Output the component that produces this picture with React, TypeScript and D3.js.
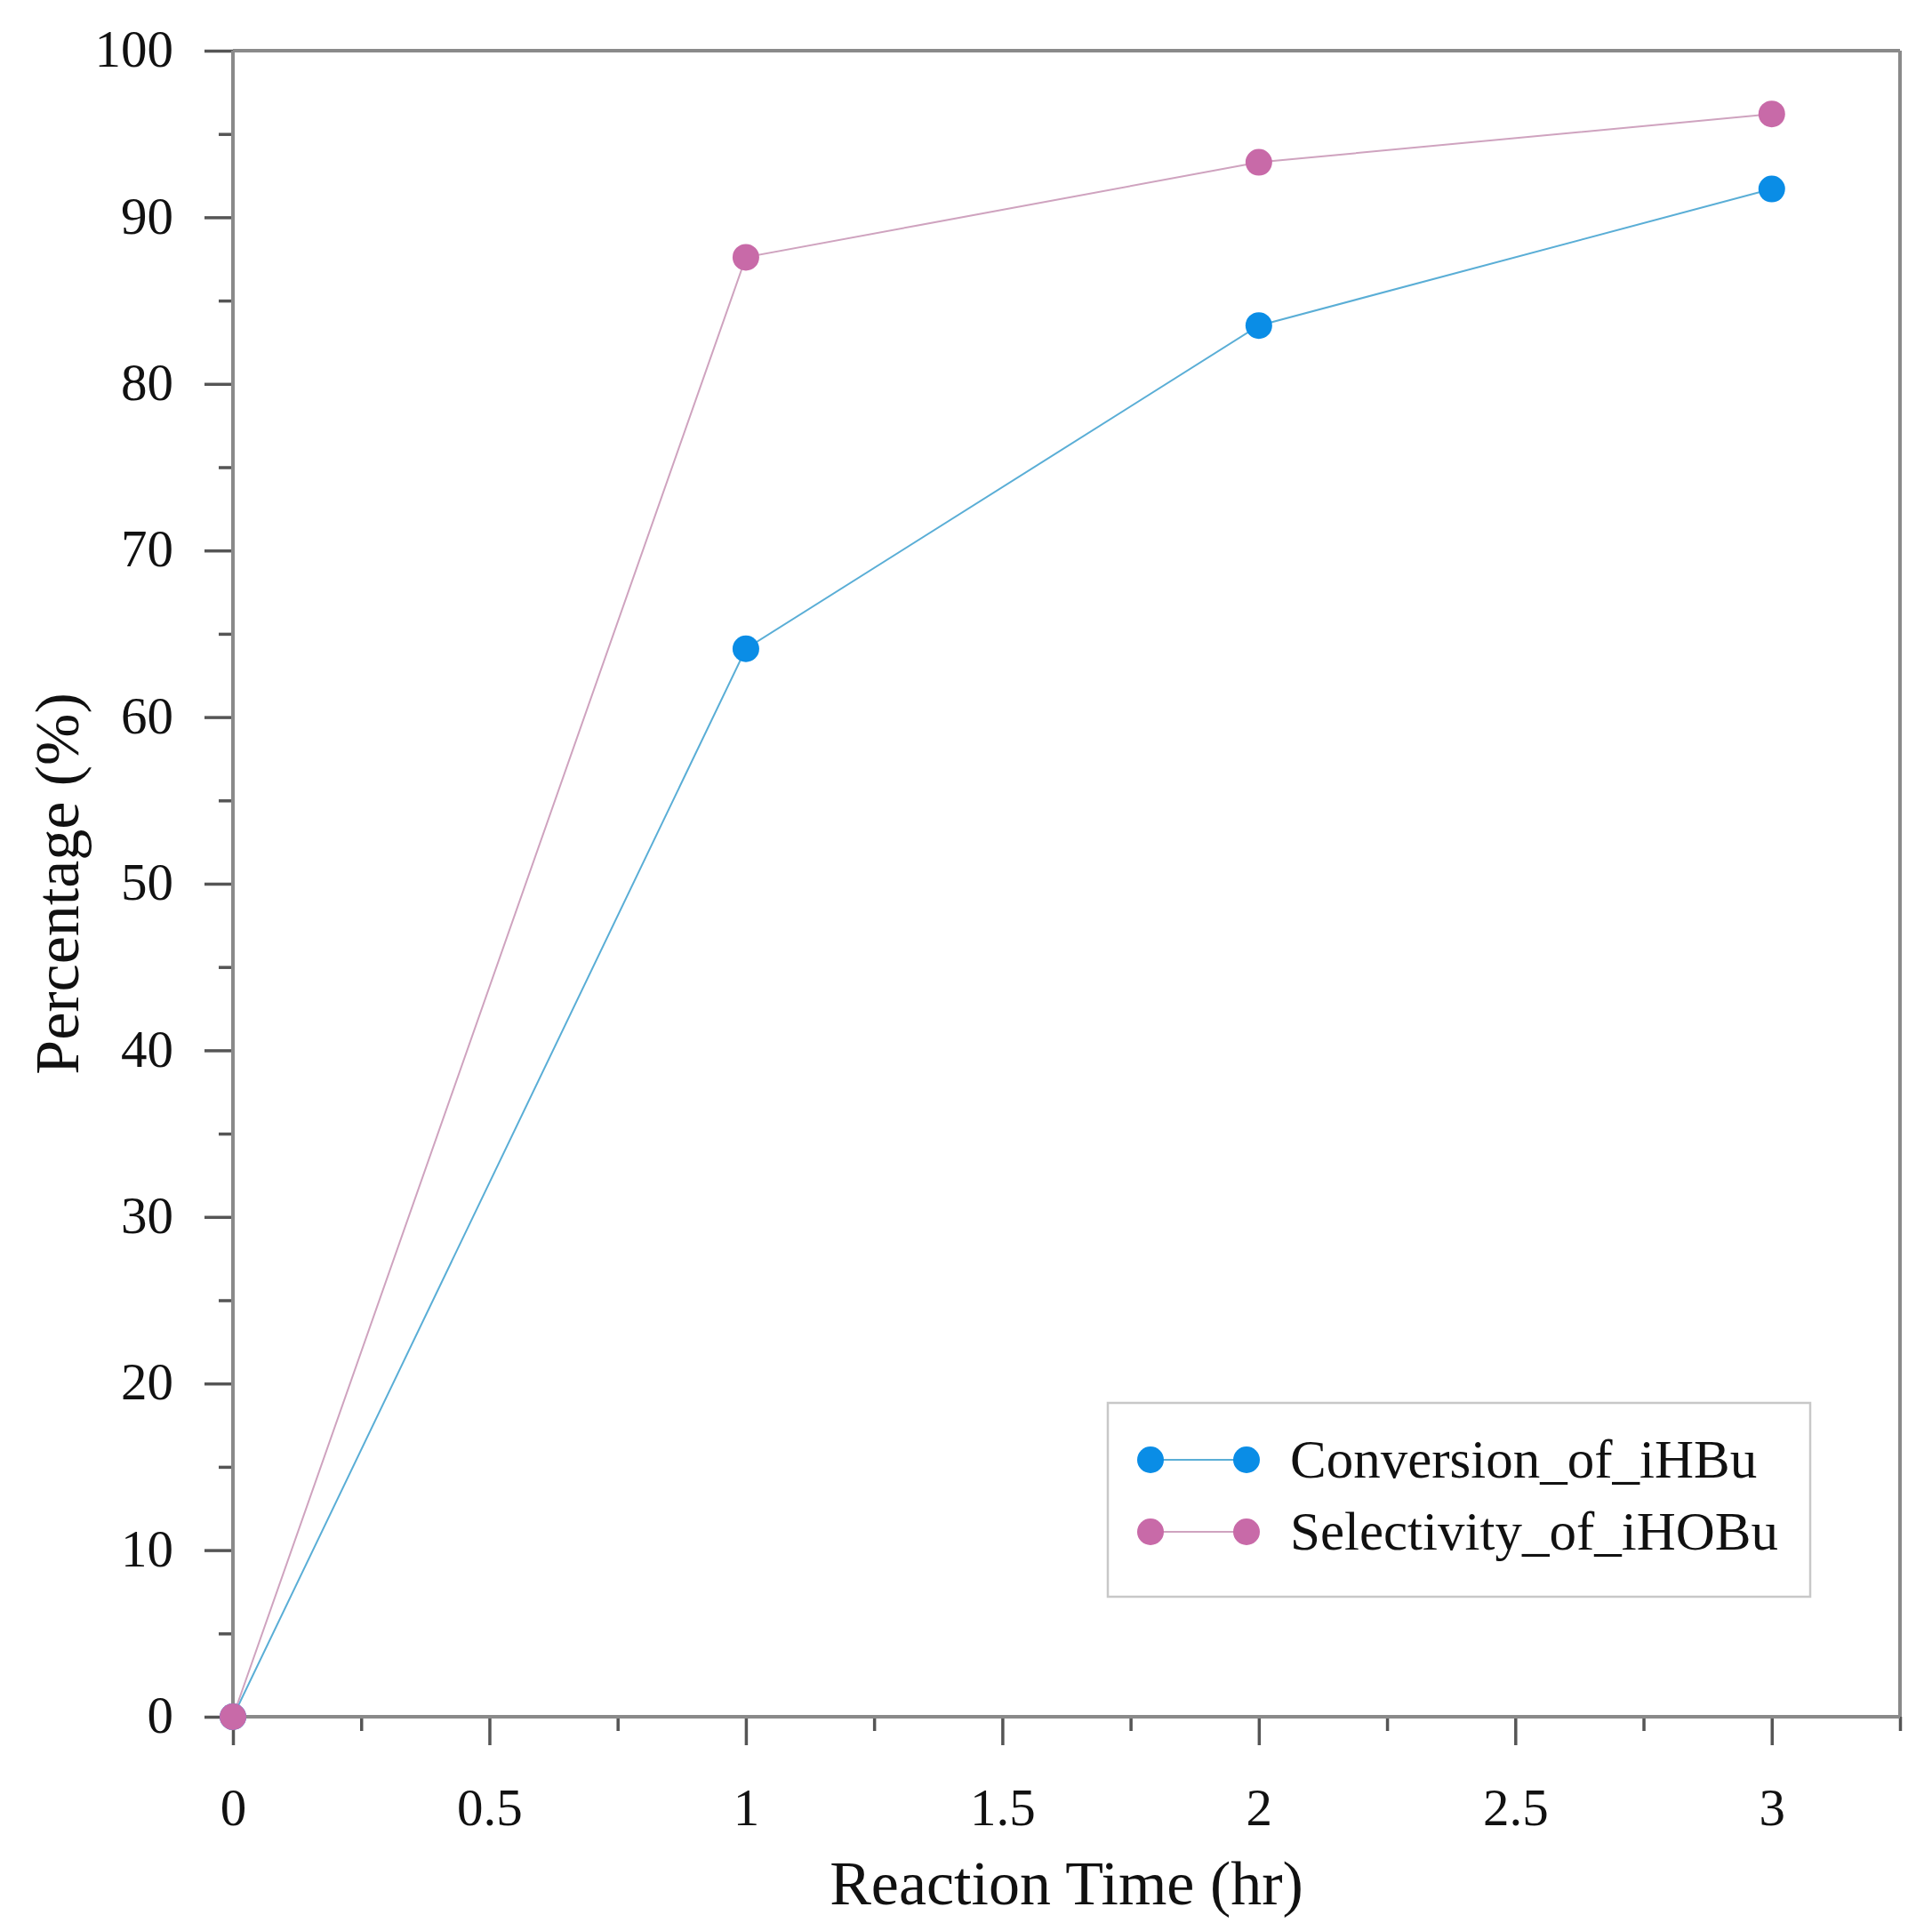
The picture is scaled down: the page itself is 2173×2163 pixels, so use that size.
import React, { useRef, useEffect } from 'react';
import * as d3 from 'd3';

// reaction time (hr)
const times = [0, 1, 2, 3];
// series values (%)
const conversion = [0, 64.1, 83.5, 91.7];
const selectivity = [0, 87.6, 93.3, 96.2];

const seriesNames = ['Conversion_of_iHBu', 'Selectivity_of_iHOBu'];
const markerColors = ['#0a8de6', '#c86aa8'];
const lineColors = ['#5aaed6', '#cfa3bf'];

const xMajor = [0, 0.5, 1, 1.5, 2, 2.5, 3];
const xMinor = [0.25, 0.75, 1.25, 1.75, 2.25, 2.75, 3.25];
const yMajor = [0, 10, 20, 30, 40, 50, 60, 70, 80, 90, 100];
const yMinor = [5, 15, 25, 35, 45, 55, 65, 75, 85, 95];

const App: React.FC = () => {
    const svgRef = useRef<SVGSVGElement | null>(null);
    const width = 2173;
    const height = 2163;
    const plot = { left: 262, right: 2137, top: 57, bottom: 1931 };
    const font = '"Liberation Serif", "Times New Roman", serif';
    const axisGray = '#8a8a8a';
    const tickColor = '#555';

    useEffect(() => {
        if (!svgRef.current) return;
        const svg = d3.select(svgRef.current);
        svg.selectAll('*').remove();

        svg.append('rect').attr('width', width).attr('height', height).attr('fill', '#fff');

        const x = d3.scaleLinear().domain([0, 3.25]).range([plot.left, plot.right]);
        const y = d3.scaleLinear().domain([0, 100]).range([plot.bottom, plot.top]);

        // frame
        const frame = svg.append('g').attr('stroke', axisGray).attr('stroke-width', 4).attr('fill', 'none');
        frame.append('line').attr('x1', plot.left).attr('x2', plot.right).attr('y1', plot.top).attr('y2', plot.top);
        frame.append('line').attr('x1', plot.right).attr('x2', plot.right).attr('y1', plot.top).attr('y2', plot.bottom);

        // y axis
        const yAxisMajor = svg.append('g')
            .attr('transform', `translate(${plot.left},0)`)
            .call(d3.axisLeft(y).tickValues(yMajor).tickSize(32).tickPadding(35).tickSizeOuter(0));
        yAxisMajor.select('.domain').remove();
        yAxisMajor.selectAll('line').attr('stroke', tickColor).attr('stroke-width', 3.5);
        yAxisMajor.selectAll('text')
            .attr('font-family', font).attr('font-size', 59).attr('fill', '#111').attr('dy', '0.3em');

        const yAxisMinor = svg.append('g')
            .attr('transform', `translate(${plot.left},0)`)
            .call(d3.axisLeft(y).tickValues(yMinor).tickSize(16).tickFormat(() => ''));
        yAxisMinor.select('.domain').remove();
        yAxisMinor.selectAll('line').attr('stroke', tickColor).attr('stroke-width', 3.5);

        // x axis
        const xAxisMajor = svg.append('g')
            .attr('transform', `translate(0,${plot.bottom})`)
            .call(d3.axisBottom(x).tickValues(xMajor).tickSize(32).tickFormat(d => String(d)));
        xAxisMajor.select('.domain').remove();
        xAxisMajor.selectAll('line').attr('stroke', tickColor).attr('stroke-width', 3.5);
        xAxisMajor.selectAll('text')
            .attr('font-family', font).attr('font-size', 59).attr('fill', '#111')
            .attr('y', 122).attr('dy', 0);

        const xAxisMinor = svg.append('g')
            .attr('transform', `translate(0,${plot.bottom})`)
            .call(d3.axisBottom(x).tickValues(xMinor).tickSize(16).tickFormat(() => ''));
        xAxisMinor.select('.domain').remove();
        xAxisMinor.selectAll('line').attr('stroke', tickColor).attr('stroke-width', 3.5);

        // axis lines
        svg.append('line').attr('x1', plot.left).attr('x2', plot.left)
            .attr('y1', plot.top).attr('y2', plot.bottom)
            .attr('stroke', axisGray).attr('stroke-width', 4);
        svg.append('line').attr('x1', plot.left).attr('x2', plot.right)
            .attr('y1', plot.bottom).attr('y2', plot.bottom)
            .attr('stroke', axisGray).attr('stroke-width', 4);

        // axis titles
        svg.append('text')
            .attr('x', (plot.left + plot.right) / 2).attr('y', 2142)
            .attr('text-anchor', 'middle').attr('font-family', font).attr('font-size', 70).attr('fill', '#111')
            .text('Reaction Time (hr)');
        svg.append('text')
            .attr('transform', `translate(88,${(plot.top + plot.bottom) / 2}) rotate(-90)`)
            .attr('text-anchor', 'middle').attr('font-family', font).attr('font-size', 70).attr('fill', '#111')
            .text('Percentage (%)');

        // series
        const series = [conversion, selectivity];
        const line = d3.line<number>()
            .x((_, i) => x(times[i]))
            .y(d => y(d));

        series.forEach((vals, s) => {
            svg.append('path')
                .datum(vals)
                .attr('fill', 'none')
                .attr('stroke', lineColors[s])
                .attr('stroke-width', 2)
                .attr('d', line);
        });
        series.forEach((vals, s) => {
            svg.append('g').selectAll('circle')
                .data(vals)
                .join('circle')
                .attr('cx', (_, i) => x(times[i]))
                .attr('cy', d => y(d))
                .attr('r', 15)
                .attr('fill', markerColors[s]);
        });

        // legend
        const legend = svg.append('g');
        legend.append('rect')
            .attr('x', 1246).attr('y', 1578).attr('width', 790).attr('height', 218)
            .attr('fill', '#fff').attr('stroke', '#c8c8c8').attr('stroke-width', 2.5);
        seriesNames.forEach((name, s) => {
            const cy = 1642 + s * 81;
            legend.append('line').attr('x1', 1294).attr('x2', 1402).attr('y1', cy).attr('y2', cy)
                .attr('stroke', lineColors[s]).attr('stroke-width', 2);
            [1294, 1402].forEach(cx => {
                legend.append('circle').attr('cx', cx).attr('cy', cy).attr('r', 15).attr('fill', markerColors[s]);
            });
            legend.append('text')
                .attr('x', 1451).attr('y', cy).attr('dy', '0.33em')
                .attr('font-family', font).attr('font-size', 61).attr('fill', '#111')
                .text(name);
        });
    }, []);

    return (
        <div style={{ position: 'absolute', left: 0, top: 0 }}>
            <svg ref={svgRef} width={width} height={height} style={{ display: 'block' }}></svg>
        </div>
    );
};

export default App;
